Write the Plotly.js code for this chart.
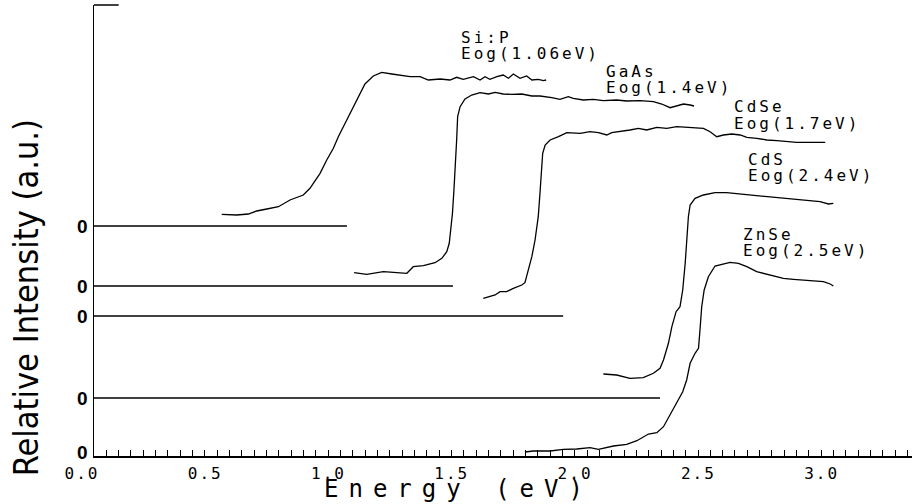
<!DOCTYPE html>
<html>
<head>
<meta charset="utf-8">
<script src="https://cdn.plot.ly/plotly-3.0.1.min.js"></script>
<style>
html,body{margin:0;padding:0;background:#fff;}
#chart{width:912px;height:504px;}
</style>
</head>
<body>
<div id="chart"></div>
<script>
// ---- data (energy in eV, relative intensity in a.u. above each curve's own zero) ----
const names = ['Si:P', 'GaAs', 'CdSe', 'CdS', 'ZnSe'];
const gapLabels = ['Eog(1.06eV)', 'Eog(1.4eV)', 'Eog(1.7eV)', 'Eog(2.4eV)', 'Eog(2.5eV)'];
const offsets = [23.0, 17.0, 14.0, 5.8, 0.4];          // vertical offset of each curve's zero
const baselineEnd = [1.026, 1.456, 1.903, 2.296, null]; // where each zero line stops
const labelE = [1.485, 2.073, 2.592, 2.649, 2.629];     // label anchor energies
const labelNameY = [41.9, 38.5, 35.0, 29.7, 22.2];
const labelGapY = [40.3, 36.9, 33.3, 28.1, 20.6];

const siP_E = [0.518,0.579,0.626,0.660,0.701,0.748,0.795,0.849,0.876,0.917,0.944,0.971,0.991,1.011,1.039,1.066,1.099,1.133,1.167,1.208,1.241,1.282,1.323,1.356,1.404,1.444,1.471,1.498,1.539,1.566,1.586,1.606,1.634,1.660,1.681,1.701,1.728,1.755,1.776,1.802,1.823,1.834];
const siP_I = [1.17,1.10,1.20,1.50,1.70,1.93,2.60,3.10,3.77,5.27,6.60,7.77,8.93,9.93,11.27,12.60,14.20,15.00,15.37,15.20,15.10,14.93,14.93,14.60,14.70,14.60,14.87,14.67,14.93,14.60,14.93,14.67,14.93,15.10,14.77,15.20,14.77,15.00,14.60,14.67,14.53,14.60];

const gaAs_E = [1.055,1.106,1.174,1.228,1.269,1.282,1.295,1.336,1.383,1.411,1.431,1.441,1.448,1.454,1.460,1.467,1.471,1.475,1.485,1.505,1.532,1.566,1.600,1.627,1.660,1.695,1.735,1.776,1.809,1.857,1.890,1.924,1.944,1.985,2.026,2.066,2.120,2.161,2.215,2.269,2.303,2.337,2.364,2.391,2.418,2.434];
const gaAs_I = [1.33,1.17,1.43,1.33,1.27,1.60,1.93,2.03,2.33,2.77,3.43,4.27,5.60,7.27,9.60,12.27,14.60,16.93,17.93,18.70,19.10,19.33,19.20,19.37,19.20,19.17,19.20,19.00,19.00,18.83,18.67,18.93,18.77,18.60,18.67,18.53,18.60,18.50,18.53,18.43,18.20,17.83,18.00,18.20,18.10,18.00];

const cdSe_E = [1.579,1.606,1.627,1.647,1.674,1.701,1.735,1.748,1.762,1.776,1.789,1.802,1.809,1.816,1.820,1.830,1.850,1.884,1.918,1.972,2.012,2.046,2.080,2.100,2.134,2.174,2.208,2.242,2.283,2.323,2.364,2.404,2.445,2.472,2.499,2.526,2.553,2.587,2.621,2.648,2.688,2.729,2.770,2.810,2.850,2.891,2.932,2.966];
const cdSe_I = [1.77,1.93,2.10,2.43,2.43,2.77,3.10,3.33,4.60,5.93,7.60,9.93,12.27,14.60,16.27,17.10,17.60,17.93,18.33,18.27,18.43,18.33,18.10,18.33,18.43,18.60,18.77,18.60,18.87,18.77,18.93,18.87,18.87,18.77,18.43,17.93,18.10,18.20,18.10,17.87,17.77,17.60,17.53,17.43,17.37,17.37,17.37,17.37];

const cdS_E = [2.066,2.120,2.174,2.228,2.269,2.296,2.310,2.330,2.344,2.361,2.377,2.388,2.398,2.404,2.411,2.418,2.438,2.472,2.519,2.566,2.621,2.675,2.729,2.783,2.837,2.891,2.945,2.979,2.999];
const cdS_I = [2.40,2.30,1.97,2.03,2.47,2.97,3.80,5.47,7.13,8.63,9.13,10.80,13.47,15.80,18.13,19.30,19.97,20.30,20.53,20.53,20.40,20.30,20.13,19.97,19.87,19.73,19.63,19.40,19.47];

const znSe_E = [1.748,1.782,1.850,1.904,1.958,2.012,2.046,2.107,2.161,2.202,2.249,2.283,2.310,2.337,2.364,2.388,2.404,2.418,2.438,2.452,2.458,2.465,2.475,2.492,2.519,2.553,2.580,2.614,2.648,2.688,2.722,2.756,2.796,2.837,2.878,2.918,2.959,2.986,2.999];
const znSe_I = [0.00,0.10,0.10,0.27,0.30,0.43,0.27,0.60,0.77,1.13,1.80,1.93,2.53,3.70,4.87,6.03,7.20,8.87,9.87,10.37,12.20,14.53,16.20,17.53,18.60,18.80,18.97,18.87,18.53,18.03,17.80,17.60,17.37,17.27,17.20,17.13,17.03,16.80,16.60];

// ---- build traces ----
const seriesE = [siP_E, gaAs_E, cdSe_E, cdS_E, znSe_E];
const seriesI = [siP_I, gaAs_I, cdSe_I, cdS_I, znSe_I];
const traces = [];
for (let k = 0; k < names.length; k++) {
  if (baselineEnd[k] !== null) {
    traces.push({
      x: [0, baselineEnd[k]], y: [offsets[k], offsets[k]],
      type: 'scatter', mode: 'lines', hoverinfo: 'skip',
      line: {color: '#000', width: 1.6}
    });
  }
  traces.push({
    x: seriesE[k], y: seriesI[k].map(v => v + offsets[k]),
    type: 'scatter', mode: 'lines', name: names[k],
    line: {color: '#000', width: 1.3}
  });
}

const mono = 'DejaVu Sans Mono';
const annotations = [];
for (let k = 0; k < names.length; k++) {
  annotations.push({x: labelE[k], y: labelNameY[k], xref: 'x', yref: 'y', text: names[k],
    showarrow: false, xanchor: 'left', yanchor: 'middle', align: 'left', borderpad: 0,
    font: {family: mono, size: 16, color: '#000'}});
  annotations.push({x: labelE[k], y: labelGapY[k], xref: 'x', yref: 'y', text: gapLabels[k],
    showarrow: false, xanchor: 'left', yanchor: 'middle', align: 'left', borderpad: 0,
    font: {family: mono, size: 16, color: '#000'}});
}
annotations.push({x: 0.929, y: -0.074, xref: 'x', yref: 'paper', text: 'Energy (eV)',
  showarrow: false, xanchor: 'left', yanchor: 'middle', align: 'left', borderpad: 0,
  font: {family: mono, size: 24, color: '#000'}});
annotations.push({x: -0.083, y: 0.35, xref: 'paper', yref: 'paper', text: 'Relative Intensity (a.u.)',
  showarrow: false, textangle: -90, xanchor: 'center', yanchor: 'middle',
  font: {family: 'Liberation Sans Narrow, DejaVu Sans Condensed, sans-serif', size: 34, color: '#000', weight: 300}});

const layout = {
  width: 912, height: 504,
  margin: {l: 94, r: 0, t: 5, b: 48},
  paper_bgcolor: '#fff', plot_bgcolor: '#fff',
  showlegend: false,
  xaxis: {
    range: [0, 3.318], tickmode: 'linear', tick0: 0, dtick: 0.5, tickformat: '.1f',
    showline: true, linecolor: '#000', linewidth: 1.5, mirror: false,
    ticks: 'inside', ticklen: 6, tickwidth: 1, tickcolor: '#000',
    ticklabelshift: -12, ticklabelstandoff: 2,
    tickfont: {family: mono, size: 16, color: '#000'},
    minor: {dtick: 0.05, tick0: 0, ticks: 'inside', ticklen: 6, tickwidth: 1, tickcolor: '#000', showgrid: false},
    showgrid: false, zeroline: false
  },
  yaxis: {
    range: [0, 45.1], tickmode: 'array', tickvals: offsets, ticktext: offsets.map(() => '0'),
    showline: true, linecolor: '#000', linewidth: 1.5, ticks: '',
    tickfont: {family: 'Liberation Sans', size: 19, color: '#000', weight: 'bold'},
    ticklabelstandoff: 1,
    showgrid: false, zeroline: false
  },
  shapes: [{type: 'line', xref: 'x', yref: 'paper', x0: 0, x1: 0.1, y0: 1, y1: 1,
    line: {color: '#000', width: 1.5}}],
  annotations: annotations
};

Plotly.newPlot('chart', traces, layout, {staticPlot: true}).then(function (gd) {
  const spacing = {16: '3px', 24: '10px'};
  gd.querySelectorAll('text').forEach(function (t) {
    const ff = t.style.fontFamily || '';
    if (ff.indexOf('Mono') >= 0) {
      const fs = parseInt(t.style.fontSize, 10);
      if (spacing[fs]) t.style.letterSpacing = spacing[fs];
    }
  });
  // tick labels keep a tighter spacing
  gd.querySelectorAll('.xtick text').forEach(function (t) { t.style.letterSpacing = '2px'; });
});
</script>
</body>
</html>
